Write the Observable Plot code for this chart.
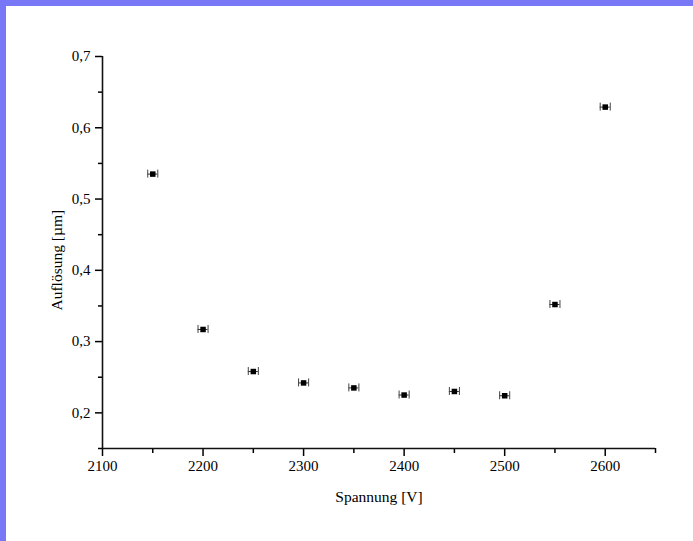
<!DOCTYPE html>
<html>
<head>
<meta charset="utf-8">
<script src="https://cdn.jsdelivr.net/npm/d3@7"></script>
<script src="https://cdn.jsdelivr.net/npm/@observablehq/plot@0.6"></script>
<style>
  html, body { margin: 0; padding: 0; background: #ffffff; }
  #wrap {
    width: 687px; height: 535px;
    border-top: 6px solid #7878f6;
    border-left: 6px solid #7878f6;
    background: #ffffff;
  }
  svg { display: block; }
</style>
</head>
<body>
<div id="wrap"></div>
<script>
// Data
const spannung = [2150, 2200, 2250, 2300, 2350, 2400, 2450, 2500, 2550, 2600];
const aufloesung = [0.535, 0.317, 0.258, 0.242, 0.235, 0.225, 0.230, 0.224, 0.352, 0.629];
const spannungFehler = [5, 5, 5, 5, 5, 5, 5, 5, 5, 5];

const xMajorTicks = [2100, 2200, 2300, 2400, 2500, 2600];
const xMinorTicks = [2150, 2250, 2350, 2450, 2550, 2650];
const yMajorTicks = [0.2, 0.3, 0.4, 0.5, 0.6, 0.7];
const yMinorTicks = [0.15, 0.25, 0.35, 0.45, 0.55, 0.65];

const xDomain = [2100, 2650];
const yDomain = [0.15, 0.7];

const data = spannung.map((x, i) => ({x, y: aufloesung[i], ex: spannungFehler[i]}));
const fmtComma = d => d3.format(".1f")(d).replace(".", ",");

const font = "'Liberation Serif', 'Times New Roman', serif";

const chart = Plot.plot({
  width: 687,
  height: 535,
  marginLeft: 96,
  marginRight: 38,
  marginTop: 50,
  marginBottom: 93,
  style: {fontFamily: font, fontSize: "15px", color: "#000", background: "#fff"},
  x: {domain: xDomain},
  y: {domain: yDomain},
  marks: [
    Plot.axisY({ticks: yMajorTicks, tickSize: 7, tickPadding: 5, tickFormat: fmtComma, fontSize: 15, label: null, strokeWidth: 1.5}),
    Plot.axisY({ticks: yMinorTicks, tickSize: 4, tickFormat: () => "", label: null, strokeWidth: 1.5}),
    Plot.axisX({ticks: xMajorTicks, tickSize: 8, tickPadding: 4, tickFormat: d => String(d), fontSize: 15, label: null, strokeWidth: 1.5}),
    Plot.axisX({ticks: xMinorTicks, tickSize: 5, tickFormat: () => "", label: null, strokeWidth: 1.5}),
    Plot.ruleX([xDomain[0]], {stroke: "#111", strokeWidth: 1.6}),
    Plot.ruleY([yDomain[0]], {stroke: "#111", strokeWidth: 1.6}),
    // horizontal error bars
    Plot.ruleY(data, {y: "y", x1: d => d.x - d.ex, x2: d => d.x + d.ex, stroke: "#333", strokeWidth: 1}),
    Plot.ruleX(data, {x: d => d.x - d.ex, y1: "y", y2: "y", insetTop: -4, insetBottom: -4, stroke: "#444", strokeWidth: 1}),
    Plot.ruleX(data, {x: d => d.x + d.ex, y1: "y", y2: "y", insetTop: -4, insetBottom: -4, stroke: "#444", strokeWidth: 1}),
    Plot.dot(data, {x: "x", y: "y", symbol: "square", r: 3.1, fill: "#000", stroke: "none"}),
    Plot.text(["Spannung [V]"], {frameAnchor: "bottom", dy: 49, lineAnchor: "middle", fontSize: 15.5, fill: "#000"}),
    Plot.text(["Auflösung [µm]"], {frameAnchor: "left", dx: -45, dy: 58, rotate: -90, lineAnchor: "middle", fontSize: 15.5, fill: "#000"})
  ]
});
document.getElementById("wrap").appendChild(chart);
</script>
</body>
</html>
